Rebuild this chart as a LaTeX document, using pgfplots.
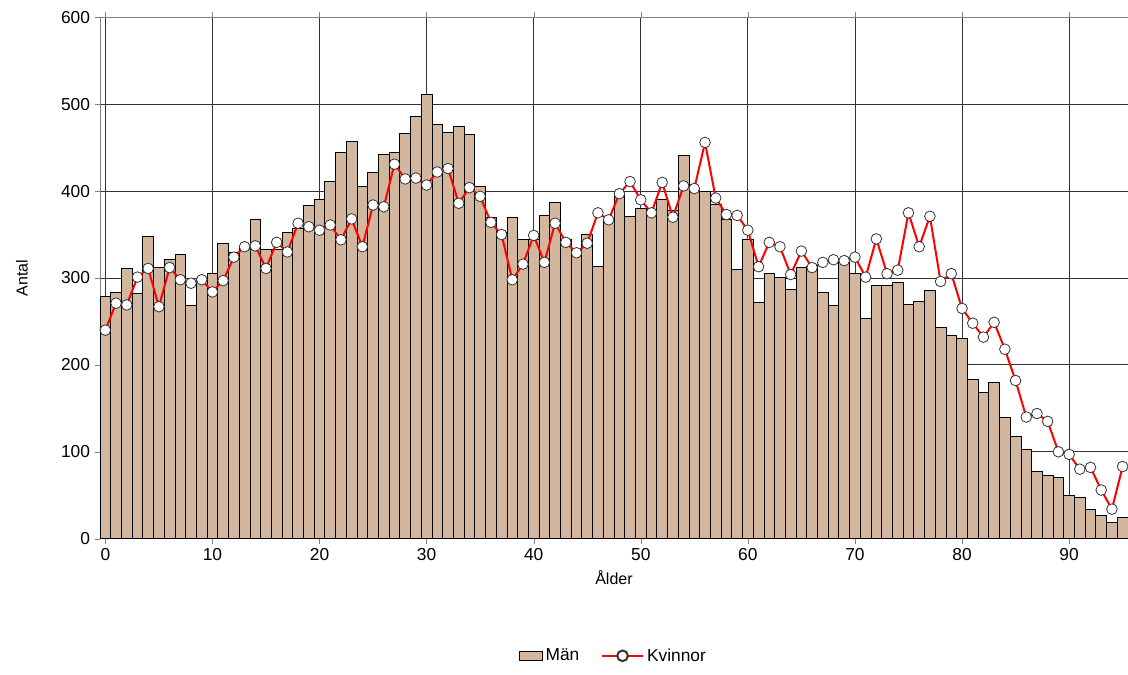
\documentclass[border=0pt]{standalone}
\usepackage{pgfplots}
\pgfplotsset{compat=1.18}
\usepackage{fontspec}
\setmainfont{Liberation Sans}
\definecolor{bar}{RGB}{210,183,158}
\begin{document}
\begin{tikzpicture}
\path[use as bounding box] (-75pt,-102pt) rectangle (771pt,404pt);
\begin{axis}[scale only axis, width=771pt, height=391pt,
  xmin=-0.5, xmax=95.5, ymin=0, ymax=600,
  xtick={0,10,...,90}, ytick={0,100,...,600},
  grid=major, major grid style={black!80, line width=0.6pt},
  axis line style={black!50}, tick style={black!50},
  tick align=outside, major tick length=4pt,
  ticklabel style={font=\fontsize{13}{15}\selectfont},
  /pgf/number format/assume math mode=true,
  xlabel={Ålder}, ylabel={Antal},
  label style={font=\fontsize{12}{14}\selectfont},
  ylabel style={yshift=18pt},
  legend style={at={(0.5,-0.2)}, anchor=north, draw=none, legend columns=2, font=\fontsize{13}{15}\selectfont, /tikz/every even column/.append style={column sep=14pt}},
  ]
\addplot[ybar, bar width=1, fill=bar, draw=black, line width=0.6pt, legend image code/.code={\draw[fill=bar,draw=black] (0cm,-0.12cm) rectangle (0.6cm,0.12cm);}] coordinates {
(0,279)(1,283)(2,311)(3,282)(4,348)(5,312)(6,321)(7,327)(8,269)(9,298)(10,305)(11,340)(12,330)(13,334)(14,368)(15,333)(16,333)(17,352)(18,357)(19,384)(20,390)(21,411)(22,444)(23,457)(24,405)(25,421)(26,442)(27,445)(28,466)(29,486)(30,511)(31,477)(32,467)(33,475)(34,465)(35,405)(36,370)(37,352)(38,370)(39,344)(40,345)(41,372)(42,387)(43,344)(44,330)(45,350)(46,313)(47,367)(48,395)(49,371)(50,380)(51,379)(52,391)(53,378)(54,441)(55,401)(56,400)(57,385)(58,367)(59,310)(60,345)(61,272)(62,305)(63,301)(64,287)(65,312)(66,313)(67,283)(68,268)(69,318)(70,305)(71,253)(72,291)(73,291)(74,295)(75,270)(76,273)(77,286)(78,243)(79,234)(80,230)(81,183)(82,168)(83,180)(84,140)(85,118)(86,103)(87,77)(88,73)(89,70)(90,50)(91,47)(92,34)(93,27)(94,19)(95,24)};
\addlegendentry{Män}
\addplot[red, line width=1.5pt, mark=*, mark size=4pt, mark options={fill=white, draw=black!80, line width=0.6pt}, legend image code/.code={\draw[red,line width=1.5pt] (0cm,0cm) -- (1.1cm,0cm); \draw[fill=white,draw=black!80] (0.55cm,0cm) circle (4pt);}] coordinates {
(0,240)(1,271)(2,269)(3,301)(4,311)(5,267)(6,312)(7,298)(8,294)(9,298)(10,284)(11,297)(12,324)(13,336)(14,337)(15,311)(16,341)(17,330)(18,363)(19,359)(20,355)(21,361)(22,344)(23,368)(24,336)(25,384)(26,382)(27,431)(28,414)(29,415)(30,407)(31,422)(32,426)(33,386)(34,404)(35,394)(36,364)(37,350)(38,298)(39,316)(40,349)(41,318)(42,363)(43,341)(44,329)(45,340)(46,375)(47,367)(48,397)(49,411)(50,390)(51,375)(52,410)(53,370)(54,406)(55,403)(56,456)(57,392)(58,373)(59,372)(60,355)(61,313)(62,341)(63,336)(64,304)(65,331)(66,312)(67,318)(68,321)(69,320)(70,324)(71,301)(72,345)(73,305)(74,309)(75,375)(76,336)(77,371)(78,296)(79,305)(80,265)(81,248)(82,232)(83,249)(84,218)(85,182)(86,140)(87,144)(88,135)(89,100)(90,97)(91,80)(92,82)(93,56)(94,34)(95,83)};
\addlegendentry{Kvinnor}
\end{axis}
\end{tikzpicture}
\end{document}
